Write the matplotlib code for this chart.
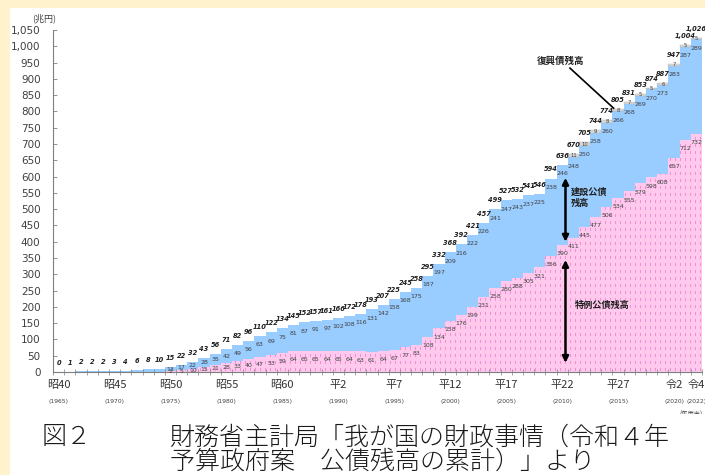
import numpy as np
import matplotlib.pyplot as plt
from matplotlib.patches import Rectangle
from matplotlib.path import Path
from matplotlib.transforms import Bbox
from matplotlib.ticker import FuncFormatter, MultipleLocator
from matplotlib.colors import to_rgb

plt.rcParams['font.family'] = ['Noto Sans CJK JP', 'DejaVu Sans']

# 年度末の公債残高（兆円）
years = np.arange(1965, 2023)
total = [0, 1, 2, 2, 2, 3, 4, 6, 8, 10,
         15, 22, 32, 43, 56, 71, 82, 96, 110, 122,
         134, 145, 152, 157, 161, 166, 172, 178, 193, 207,
         225, 245, 258, 295, 332, 368, 392, 421, 457, 499,
         527, 532, 541, 546, 594, 636, 670, 705, 744, 774,
         805, 831, 853, 874, 887, 947, 1004, 1026]
tokurei = np.array([0] * 10 + [
    2, 5, 10, 15, 21, 28, 33, 40, 47, 53,
    59, 64, 65, 65, 64, 65, 64, 63, 61, 64,
    67, 77, 83, 108, 134, 158, 176, 199, 231, 258,
    280, 288, 305, 321, 356, 390, 411, 445, 477, 506,
    534, 555, 579, 598, 608, 657, 712, 732])
kensetsu = np.array([0, 1, 2, 2, 2, 3, 4, 6, 8, 10,
    13, 17, 22, 28, 35, 42, 49, 56, 63, 69,
    75, 81, 87, 91, 97, 102, 108, 116, 131, 142,
    158, 168, 175, 187, 197, 209, 216, 222, 226, 241,
    247, 243, 237, 225, 238, 246, 248, 250, 258, 260,
    266, 268, 269, 270, 273, 283, 287, 289])
fukko = np.array([0] * 46 + [11, 10, 9, 8, 8, 7, 5, 5, 6, 7, 5, 5])

era_years = [1965, 1970, 1975, 1980, 1985, 1990, 1995, 2000, 2005, 2010, 2015, 2020, 2022]
era_labels = ['昭40', '昭45', '昭50', '昭55', '昭60', '平2', '平7', '平12',
              '平17', '平22', '平27', '令2', '令4']

PINK = '#FFC9EE'
PINK_DASH = '#EE90D2'
BLUE = '#99CCFF'
GRAY = '#D9D9D9'
TXT = '#404040'
NUM = ['DejaVu Sans']

fig = plt.figure(figsize=(7.05, 4.75), dpi=100)
fig.patch.set_facecolor('#FFF2CC')
fig.add_artist(Rectangle((10 / 705, 0), 1, 1 - 8 / 475, transform=fig.transFigure,
                         facecolor='white', edgecolor='none', zorder=-1))

ax = fig.add_axes([53 / 705, 1 - 372 / 475, 649 / 705, 342 / 475])
ax.set_facecolor('none')

b1 = ax.bar(years, tokurei, width=1.0, color=PINK, linewidth=0)
ax.bar(years, kensetsu, width=1.0, bottom=tokurei, color=BLUE, linewidth=0)
m = fukko > 0
ax.bar(years[m], fukko[m], width=1.0, bottom=(tokurei + kensetsu)[m],
       color=GRAY, edgecolor='#B0B0B0', linewidth=0.3)

# dashed pink texture, clipped to the deficit-bond bars
h, w = 342, 649
tile = np.empty((7, 5, 3))
tile[:] = to_rgb(PINK)
tile[2:5, 2] = to_rgb(PINK_DASH)
tex = np.tile(tile, (h // 7 + 1, w // 5 + 1, 1))[:h, :w]
img = ax.imshow(tex, extent=(0, 1, 0, 1), transform=ax.transAxes,
                interpolation='nearest', aspect='auto', zorder=1.5)
clip = Path.make_compound_path(*[p.get_path().transformed(p.get_patch_transform())
                                 for p in b1.patches])
img.set_clip_path(clip, ax.transData)

ax.set_xlim(1964.5, 2022.5)
ax.set_ylim(0, 1050)

# totals above each bar
top_all = tokurei + kensetsu + fukko
for yr, t, top in zip(years, total, top_all):
    ax.annotate(f'{t:,}', (yr, top), xytext=(0, 6.5), textcoords='offset points',
                ha='center', va='center', fontsize=4.8, fontweight='bold',
                fontstyle='italic', color='#202020', family=NUM)

# segment values
for yr, d, k, f in zip(years[10:], tokurei[10:], kensetsu[10:], fukko[10:]):
    ax.text(yr, max(d - 27, d / 2), str(d), ha='center', va='center',
            fontsize=4.5, color=TXT, family=NUM)
    ax.text(yr, max(d + k - 27, d + k / 2), str(k), ha='center', va='center',
            fontsize=4.5, color=TXT, family=NUM)
    if f > 0:
        ax.text(yr, d + k + f / 2, str(f), ha='center', va='center',
                fontsize=3.8, color=TXT, family=NUM)

# axes styling
for s in ['top', 'right']:
    ax.spines[s].set_visible(False)
for s in ['left', 'bottom']:
    ax.spines[s].set_color('#7F7F7F')
    ax.spines[s].set_linewidth(0.8)
ax.yaxis.set_major_locator(MultipleLocator(50))
ax.yaxis.set_major_formatter(FuncFormatter(lambda v, p: f'{v:,.0f}'))
ax.tick_params(axis='y', direction='in', length=3, width=0.6, color='#7F7F7F',
               labelsize=7.5, labelcolor=TXT, pad=9)
for lab in ax.get_yticklabels():
    lab.set_family(NUM)
ax.set_xticks([])
ax.set_xticks(np.arange(1964.5, 2023), minor=True)
ax.tick_params(axis='x', which='minor', direction='inout', length=4, width=0.5,
               color='#7F7F7F')

for yr, lab in zip(era_years, era_labels):
    ax.annotate(lab, (yr, 0), xycoords=('data', 'axes fraction'), xytext=(0, -9.5),
                textcoords='offset points', ha='center', va='center',
                fontsize=8, color='#333333')
    ax.annotate(f'({yr})', (yr, 0), xycoords=('data', 'axes fraction'),
                xytext=(0, -21.5), textcoords='offset points', ha='center',
                va='center', fontsize=4.3, color=TXT, family=NUM)

# unit note under the last year, cut off by the caption area
note = ax.annotate('(年度末)', (2021.5, 0), xycoords=('data', 'axes fraction'),
                   xytext=(0, -31), textcoords='offset points', ha='center',
                   va='center', fontsize=4.5, color=TXT, annotation_clip=False)
note.set_clip_box(Bbox.from_extents(0, 475 - 414, 705, 475))
note.set_clip_on(True)

fig.text(44 / 705, 1 - 18 / 475, '(兆円)', ha='center', va='center', fontsize=6.5,
         color=TXT)

# annotations
ax.text(2009.9, 955, '復興債残高', ha='center', va='center', fontsize=6.8,
        fontweight='bold', color='#202020')
ax.plot([2010.7, 2014.6], [933, 810], color='black', lw=1.2)
ax.text(2010.8, 534, '建設公債\n残高', ha='left', va='center', fontsize=6.6,
        fontweight='bold', color='#202020', linespacing=1.3)
ax.text(2011.1, 206, '特例公債残高', ha='left', va='center', fontsize=6.6,
        fontweight='bold', color='#202020')
arrow = dict(arrowstyle='<|-|>', lw=1.8, color='black', mutation_scale=9,
             shrinkA=0, shrinkB=0)
ax.annotate('', xy=(2010.3, 596), xytext=(2010.3, 400), arrowprops=arrow)
ax.annotate('', xy=(2010.3, 344), xytext=(2010.3, 28), arrowprops=arrow)

# caption
cap = dict(fontsize=18, va='center', color='#1A1A1A', fontweight='light')
fig.text(42 / 705, 1 - 437 / 475, '図２', **cap)
fig.text(170 / 705, 1 - 437 / 475, '財務省主計局「我が国の財政事情（令和４年', **cap)
fig.text(170 / 705, 1 - 461 / 475, '予算政府案　公債残高の累計）」より', **cap)

fig.savefig('out.png', dpi=100, facecolor=fig.get_facecolor())
